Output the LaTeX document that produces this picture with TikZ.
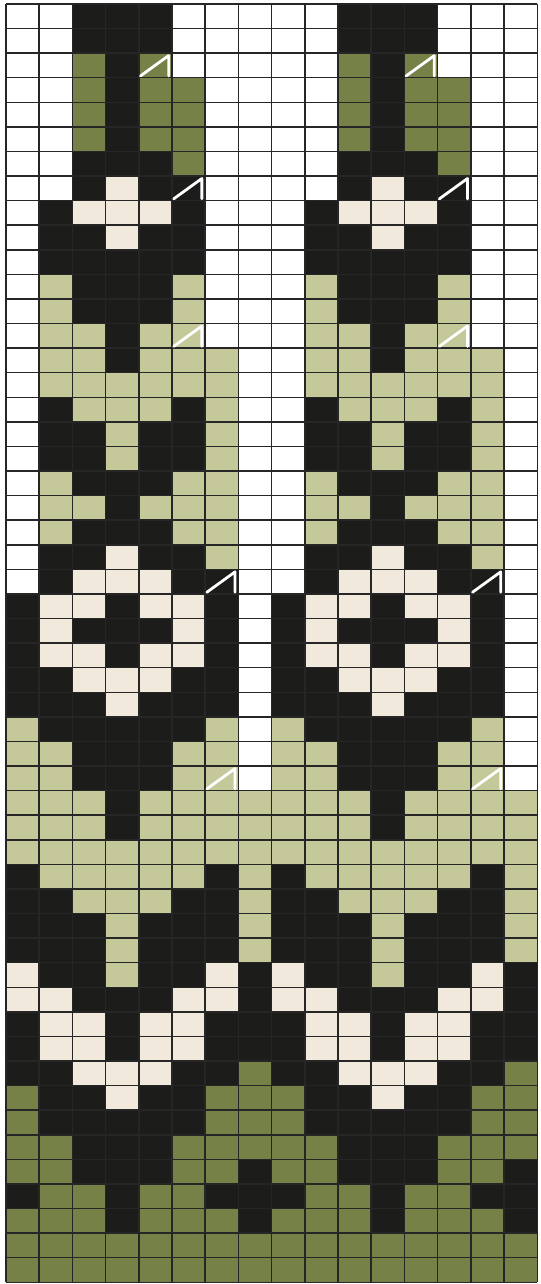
\documentclass[tikz,border=0pt]{standalone}
\usepackage{xcolor}
\usepackage{tikz}
\definecolor{chartK}{HTML}{1C1C1A}
\definecolor{chartO}{HTML}{758147}
\definecolor{chartS}{HTML}{C5C999}
\definecolor{chartC}{HTML}{F1EADC}
\definecolor{chartW}{HTML}{FFFFFF}
\tikzset{
  gridline/.style = {draw=black!85, line width=0.75pt},
  decsym/.style   = {draw=white, line width=1.4pt, line cap=round, line join=round},
}
\newcommand{\chartrows}{%
  {W,W,K,K,K,W,W,W},{W,W,K,K,K,W,W,W},{W,W,O,K,O,W,W,W},{W,W,O,K,O,O,W,W},
  {W,W,O,K,O,O,W,W},{W,W,O,K,O,O,W,W},{W,W,K,K,K,O,W,W},{W,W,K,C,K,K,W,W},
  {W,K,C,C,C,K,W,W},{W,K,K,C,K,K,W,W},{W,K,K,K,K,K,W,W},{W,S,K,K,K,S,W,W},
  {W,S,K,K,K,S,W,W},{W,S,S,K,S,S,W,W},{W,S,S,K,S,S,S,W},{W,S,S,S,S,S,S,W},
  {W,K,S,S,S,K,S,W},{W,K,K,S,K,K,S,W},{W,K,K,S,K,K,S,W},{W,S,K,K,K,S,S,W},
  {W,S,S,K,S,S,S,W},{W,S,K,K,K,S,S,W},{W,K,K,C,K,K,S,W},{W,K,C,C,C,K,K,W},
  {K,C,C,K,C,C,K,W},{K,C,K,K,K,C,K,W},{K,C,C,K,C,C,K,W},{K,K,C,C,C,K,K,W},
  {K,K,K,C,K,K,K,W},{S,K,K,K,K,K,S,W},{S,S,K,K,K,S,S,W},{S,S,K,K,K,S,S,W},
  {S,S,S,K,S,S,S,S},{S,S,S,K,S,S,S,S},{S,S,S,S,S,S,S,S},{K,S,S,S,S,S,K,S},
  {K,K,S,S,S,K,K,S},{K,K,K,S,K,K,K,S},{K,K,K,S,K,K,K,S},{C,K,K,S,K,K,C,K},
  {C,C,K,K,K,C,C,K},{K,C,C,K,C,C,K,K},{K,C,C,K,C,C,K,K},{K,K,C,C,C,K,K,O},
  {O,K,K,C,K,K,O,O},{O,K,K,K,K,K,O,O},{O,O,K,K,K,O,O,O},{O,O,K,K,K,O,O,K},
  {K,O,O,K,O,O,K,K},{O,O,O,K,O,O,O,K},{O,O,O,O,O,O,O,O},{O,O,O,O,O,O,O,O}}

\begin{document}
\begin{tikzpicture}[x=16.6pt, y=-12.29pt]
  \useasboundingbox (-0.18,-0.16) rectangle (16.11,52.07);
  \foreach \pat [count=\r] in \chartrows {
    \foreach \c [count=\k] in \pat {
      \foreach \rep in {0,8}
        \fill[fill=chart\c] (\k-1+\rep,\r-1) rectangle (\k+\rep,\r);
    }
  }
  \foreach \i in {0,...,16} \draw[gridline] (\i,0) -- (\i,52);
  \foreach \j in {0,...,52} \draw[gridline] (0,\j) -- (16,\j);
  \foreach \cc/\rr in {5/3,6/8,6/14,7/24,7/32}
    \foreach \rep in {0,8}
      \draw[decsym] (\cc-0.95+\rep,\rr-0.07) -- (\cc-0.1+\rep,\rr-0.9) -- (\cc-0.1+\rep,\rr-0.07);
\end{tikzpicture}
\end{document}
